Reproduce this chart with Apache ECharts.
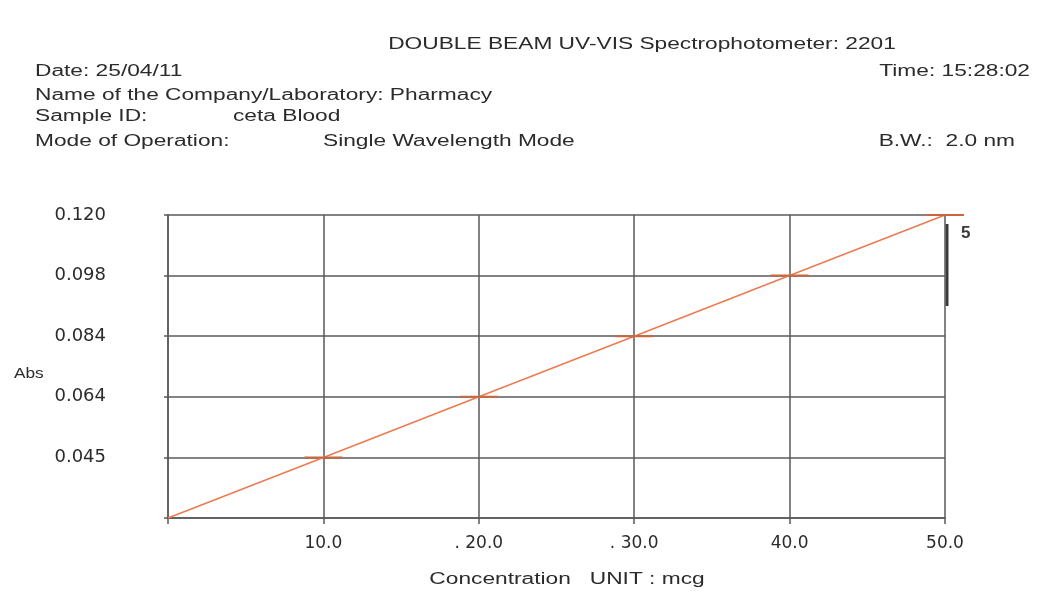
<!DOCTYPE html>
<html>
<head>
<meta charset="utf-8">
<script src="https://cdn.jsdelivr.net/npm/echarts@6/dist/echarts.min.js"></script>
<style>
  html, body { margin: 0; padding: 0; background: #fff; }
  #chart { width: 1044px; height: 592px; }
</style>
</head>
<body>
<div id="chart"></div>
<script>
// calibration standards: concentration (mcg) vs absorbance
const concentrations = [0, 10, 20, 30, 40, 50]
const absorbances = ['0', '0.045', '0.064', '0.084', '0.098', '0.120']
const xTickLabels = { 10: '10.0', 20: '. 20.0', 30: '. 30.0', 40: '40.0', 50: '50.0' }

const headerLines = [
  { text: 'DOUBLE BEAM UV-VIS Spectrophotometer: 2201', x: 642, y: 45, align: 'center' },
  { text: 'Date: 25/04/11', x: 35, y: 72, align: 'left' },
  { text: 'Time: 15:28:02', x: 1030, y: 72, align: 'right' },
  { text: 'Name of the Company/Laboratory: Pharmacy', x: 35, y: 96, align: 'left' },
  { text: 'Sample ID:', x: 35, y: 117, align: 'left' },
  { text: 'ceta Blood', x: 233, y: 117, align: 'left' },
  { text: 'Mode of Operation:', x: 35, y: 142, align: 'left' },
  { text: 'Single Wavelength Mode', x: 323, y: 142, align: 'left' },
  { text: 'B.W.:  2.0 nm', x: 1015, y: 142, align: 'right' }
]

const textColor = '#2b2b2b'
const gridColor = '#5a5a5a'
const lineColor = '#ec7b52'
const font = 'Liberation Sans, Arial'

const chart = echarts.init(document.getElementById('chart'))

const graphics = headerLines.map(h => ({
  type: 'text',
  x: h.x,
  y: h.y,
  scaleX: 1.42,
  style: {
    text: h.text,
    fontFamily: font,
    fontSize: 16,
    fill: textColor,
    align: h.align,
    verticalAlign: 'middle'
  }
}))

graphics.push(
  {
    type: 'text', x: 14, y: 374, scaleX: 1.15,
    style: { text: 'Abs', fontFamily: font, fontSize: 15, fill: textColor, verticalAlign: 'middle' }
  },
  {
    type: 'text', x: 567, y: 580, scaleX: 1.42,
    style: { text: 'Concentration   UNIT : mcg', fontFamily: font, fontSize: 16, fill: textColor, align: 'center', verticalAlign: 'middle' }
  },
  {
    type: 'text', x: 961, y: 233,
    style: { text: '5', fontFamily: font, fontSize: 17, fontWeight: 'bold', fill: '#3a3a3a', verticalAlign: 'middle' }
  },
  {
    type: 'line', shape: { x1: 947, y1: 224, x2: 947, y2: 306 },
    style: { stroke: '#3a3a3a', lineWidth: 3 }
  }
)

const option = {
  backgroundColor: '#fff',
  animation: false,
  grid: { left: 168, right: 99, top: 215, bottom: 74 },
  xAxis: {
    type: 'value',
    min: 0,
    max: 50,
    interval: 10,
    axisLine: { show: true, lineStyle: { color: gridColor, width: 1.5 } },
    axisTick: { show: true, length: 6, lineStyle: { color: gridColor, width: 1.5 } },
    axisLabel: {
      margin: 17,
      fontFamily: 'DejaVu Sans',
      fontSize: 17,
      color: textColor,
      formatter: v => xTickLabels[v] || ''
    },
    splitLine: { show: true, lineStyle: { color: gridColor, width: 1.5 } }
  },
  yAxis: {
    type: 'category',
    data: absorbances,
    boundaryGap: false,
    axisLine: { show: true, lineStyle: { color: gridColor, width: 1.5 } },
    axisTick: { show: true, length: 4, lineStyle: { color: gridColor, width: 1.5 } },
    axisLabel: {
      margin: 62,
      fontFamily: 'DejaVu Sans',
      fontSize: 18,
      color: textColor,
      formatter: v => (v === '0' ? '' : v)
    },
    splitLine: { show: true, lineStyle: { color: gridColor, width: 1.5 } }
  },
  series: [
    {
      type: 'line',
      data: concentrations.map((c, i) => ({
        value: [c, absorbances[i]],
        symbol: c === 0 ? 'none' : 'rect'
      })),
      lineStyle: { color: lineColor, width: 1.6 },
      symbolSize: [38, 2],
      showSymbol: true,
      itemStyle: { color: '#c9683f' },
      z: 5
    }
  ],
  graphic: graphics
}

chart.setOption(option)
</script>
</body>
</html>
